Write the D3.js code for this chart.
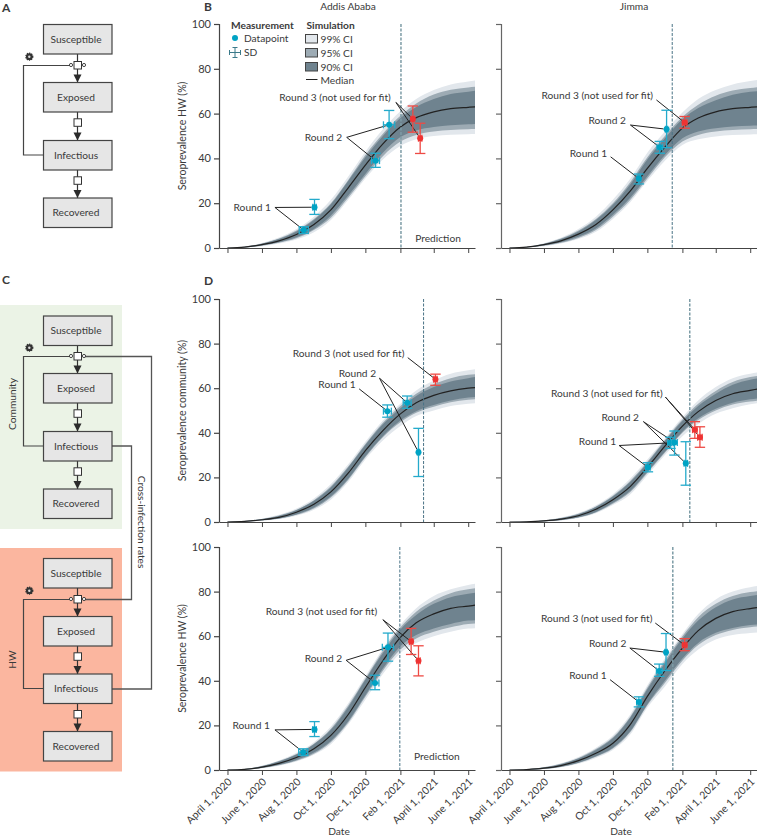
<!DOCTYPE html>
<html><head><meta charset="utf-8">
<script src="https://cdn.jsdelivr.net/npm/d3@7/dist/d3.min.js"></script>
<style>html,body{margin:0;padding:0;background:#fff}svg{display:block}text{font-family:Lato,"Noto Sans",sans-serif;fill:#3a3a3a}</style>
</head><body><svg id="c" width="757" height="836"></svg>
<script>
// ---------- data ----------
const curveDates=["2020-04-01","2020-05-01","2020-06-01","2020-07-01","2020-08-01","2020-09-01","2020-10-01","2020-11-01","2020-12-01","2021-01-01","2021-02-01","2021-03-01","2021-04-01","2021-05-01","2021-06-01","2021-06-13"];
const tickDates=["2020-04-01","2020-06-01","2020-08-01","2020-10-01","2020-12-01","2021-02-01","2021-04-01","2021-06-01"];
const tickLabels=["April 1, 2020","June 1, 2020","Aug 1, 2020","Oct 1, 2020","Dec 1, 2020","Feb 1, 2021","April 1, 2021","June 1, 2021"];
const yTicks=[0,20,40,60,80,100];
const legendCI=["99% CI","95% CI","90% CI"];

const addisHwBMedian=[0,.4,1.5,3.2,6,10.5,17,27,37,46.5,54,58.2,60.8,62.2,62.8,63];
const addisHwBHi99=[.1,.7,2.2,4.7,8.5,14,21.5,32,43,53,61,66.5,70.5,73,74.3,74.8];
const addisHwBHi95=[.1,.6,2,4.2,7.8,13,20,30.5,41.5,51,59,64.5,68.5,70.6,71.7,72];
const addisHwBHi90=[.1,.5,1.9,4,7.4,12.5,19.5,30,40.5,50,58,63,66.5,68.8,69.8,70.2];
const addisHwBLo90=[0,.3,1.2,2.6,4.8,8.5,14.5,23.5,33,42.5,49.5,52.5,54,54.8,55.2,55.4];
const addisHwBLo95=[0,.2,1,2.3,4.3,8,13.5,22.5,32,41,47.5,50.5,52,52.7,53,53.1];
const addisHwBLo99=[0,.2,.8,2,3.8,7,12.5,21.5,31,39.5,45.5,48.5,50,50.6,50.8,50.9];

const jimmaHwBMedian=[0,.4,1.5,3.2,6.2,10.5,17,25.5,35.5,45,53.5,58,60.8,62.2,62.8,63];
const jimmaHwBHi99=[.1,.6,2.1,4.6,8.5,14,21.5,31,42.5,52,60.5,66.5,70.5,73,74.5,75];
const jimmaHwBHi95=[.1,.5,1.9,4.2,7.8,13,20,29.5,40.5,50,58.5,64,68,70.3,71.4,71.8];
const jimmaHwBHi90=[.1,.5,1.8,4,7.4,12.5,19.3,28.5,39.5,49,57.5,62.5,66,68.4,69.7,70];
const jimmaHwBLo90=[0,.3,1.2,2.6,5,8.7,14.8,22.5,32,41.5,49,52,53.5,54.2,54.6,54.7];
const jimmaHwBLo95=[0,.2,1,2.3,4.5,8,14,21.5,31,40.5,47.5,50.5,52,52.7,53,53.1];
const jimmaHwBLo99=[0,.2,.8,2,4,7.2,13,20.5,30,39,46,48.5,49.8,50.4,50.7,50.8];

const addisComMedian=[0,.3,1,2.1,4.4,8,13.5,22,32,41,48.5,53.5,56.8,58.8,60,60.3];
const addisComHi99=[.1,.4,1.5,3.2,6,10.5,17,26,36,45.5,53,59,63.5,66.5,68,68.5];
const addisComHi95=[.1,.4,1.4,2.9,5.5,9.8,16,25,35,44.5,52,57.5,61.8,64.5,66,66.3];
const addisComHi90=[.1,.4,1.3,2.7,5.3,9.5,15.5,24.5,34.5,43.8,51,56.5,60.5,63,64.5,65];
const addisComLo90=[0,.2,.8,1.6,3.4,6.5,11.5,19.5,29.5,38.5,45.5,49.7,52.5,54.5,55.8,56];
const addisComLo95=[0,.2,.7,1.5,3.2,6.1,11,19,29,38,44.7,49,51.7,53.7,54.8,55];
const addisComLo99=[0,.1,.6,1.3,2.8,5.5,10,18,28,36.5,43,47.5,50,52,53,53.3];

const jimmaComMedian=[0,.1,.5,1.3,2.8,5.7,10,16,24.5,34,43,49.5,54.5,57.5,59,59.6];
const jimmaComHi99=[0,.2,.8,2,4,7.5,12.5,19.5,28,37.5,47,54.5,60.5,64.5,66.5,67];
const jimmaComHi95=[0,.2,.7,1.8,3.7,7,11.8,18.5,27,36.8,46,53,58.8,62.8,65,65.5];
const jimmaComHi90=[0,.2,.7,1.7,3.5,6.7,11.4,18,26.5,36.3,45.3,52,57.5,61.5,63.8,64.3];
const jimmaComLo90=[0,.1,.3,.9,2.1,4.5,8.6,14,22.5,31.5,40.5,46.5,50.8,53.5,55,55.4];
const jimmaComLo95=[0,.1,.3,.8,2,4.3,8.2,13.5,22,31,40,45.7,50,52.7,54,54.4];
const jimmaComLo99=[0,.1,.2,.7,1.8,3.9,7.6,12.5,21,30,38.5,44,48.5,51,52.8,53.2];

const addisHwDMedian=[0,.3,1.3,3,5.6,9.5,15.5,25,37,49,59.5,66,70,72.5,73.5,73.9];
const addisHwDHi99=[.1,.5,2,4.3,7.7,12.5,19.5,30,42,54.5,65,72.5,78,81,83,83.5];
const addisHwDHi95=[.1,.4,1.8,4,7.2,11.8,18.5,29,41,53.5,64,71,76,79.3,81,81.5];
const addisHwDHi90=[.1,.4,1.7,3.8,6.9,11.5,18,28.3,40.5,52.5,63,69.5,74.5,77.5,79,79.5];
const addisHwDLo90=[0,.2,1,2.3,4.5,7.8,13,22,33.5,45.5,55.5,60.5,63.5,65.5,67,67.2];
const addisHwDLo95=[0,.2,.9,2.1,4.2,7.3,12.5,21.3,32.8,44.5,54,59,62,64,65.5,65.7];
const addisHwDLo99=[0,.1,.8,1.9,3.8,6.8,11.5,20.5,31.5,43,52.5,57,60,62,63.4,63.6];

const jimmaHwDMedian=[0,.2,.8,2,4.2,7.5,12,20.5,33,44.5,54.7,62.5,68,71,72.4,72.8];
const jimmaHwDHi99=[.1,.3,1.3,3,5.8,10,15.5,25,38,50,61,70,76.5,80,82,82.5];
const jimmaHwDHi95=[.1,.3,1.2,2.8,5.4,9.4,14.7,24,37,49,60,68.5,74.5,78,79.8,80.2];
const jimmaHwDHi90=[0,.3,1.1,2.6,5.2,9,14.2,23.5,36.2,48,59,67,73,76.5,78,78.5];
const jimmaHwDLo90=[0,.1,.6,1.5,3.3,6.2,10,17.5,29.5,40,50,57,61.5,63.7,65,65.3];
const jimmaHwDLo95=[0,.1,.5,1.4,3.1,5.9,9.6,17,29,39,49,56,60.5,62.8,64,64.3];
const jimmaHwDLo99=[0,.1,.5,1.2,2.8,5.4,9,16,28,37.5,47.5,54,58.5,60.5,61.4,61.7];

// measurement points: [days since April 1 2020, value, low, high, x half-error in days, round]
const addisHwBPoints=[[135,8,6.5,9.5,8,1],[154,18.2,15,21.7,3,1],[262,39,36,42.3,7,2],[286,55,48.8,61.4,10,2],[328,57.6,51.7,63.4,3,3],[341,49,42.2,55.7,3,3]];
const jimmaHwBPoints=[[229,31,28.6,33,3,1],[266,45,42.3,47.6,5,2],[278,53,44.8,61.5,2,2],[310,56,53.5,58.7,4,3]];
const addisComPoints=[[283,49.7,47,52.5,7,1],[318,53.5,51,56.5,7,2],[338,31.3,20.4,42,2,2],[368,64,61.3,66.3,3,3]];
const jimmaComPoints=[[245,24.5,22.5,26.6,4,1],[285,35.5,33,38,5,1],[292,35.7,30,40.8,5,2],[312,26.3,16.5,36,3,2],[328,41.4,37.5,45,4,3],[337,38,33.5,42.7,4,3]];
const addisHwDPoints=[[134,8,6.5,9.5,8,1],[154,18.2,15,21.7,3,1],[261,39,36,42.5,7,2],[284,55,48.8,61.4,10,2],[325,57.6,51.8,63.5,3,3],[338.5,49,42.2,55.7,3,3]];
const jimmaHwDPoints=[[229,30.5,28.3,32.8,4,1],[265,44.4,42,47.5,5,2],[277,52.8,44.6,61.2,2,2],[310,56,53.5,58.9,4,3]];

// leaders: [label, label end day, label value, leader start day, leader start value, target point indexes]
const addisHwBNotes=[["Round 1",77,18.4,84,18.1,[1,0]],["Round 2",203.6,49.5,211,49.4,[3,2]],["Round 3 (not used for fit)",289,67.6,298,65,[4,5]]];
const jimmaHwBNotes=[["Round 1",173.5,42.5,179.4,40.7,[0]],["Round 2",206.5,57,214.7,54.9,[2,1]],["Round 3 (not used for fit)",254.7,68.3,260,66.1,[3]]];
const addisComNotes=[["Round 1",227.8,61.8,233.7,59.7,[0]],["Round 2",263.3,66.7,269.2,64.5,[1,2]],["Round 3 (not used for fit)",313.6,75.7,319.5,73.7,[3]]];
const jimmaComNotes=[["Round 1",189.4,36.3,194,34.3,[1,0]],["Round 2",229.4,47,237,45,[2,3]],["Round 3 (not used for fit)",271.8,58,276.5,56,[4,5]]];
const addisHwDNotes=[["Round 1",75.7,20,84,18,[1,0]],["Round 2",203,50.1,210,49.2,[3,2]],["Round 3 (not used for fit)",265.7,71.1,275,67.4,[4,5]]];
const jimmaHwDNotes=[["Round 1",172.4,42.5,178.2,40.5,[0]],["Round 2",207,57,213.5,54.7,[2,1]],["Round 3 (not used for fit)",253.5,68,258.8,65.9,[3]]];

// ---------- layout ----------
const svg=d3.select("#c");
const parse=d3.utcParse("%Y-%m-%d");
const START=parse("2020-04-01"), DOMAIN=[parse("2020-03-17"),parse("2021-06-13")];
const fromDay=d=>d3.utcDay.offset(START,Math.floor(d));
const COL={ci99:"#e2e7ec",ci95:"#9dabb4",ci90:"#6f838f",med:"#222",teal:"#00a3c4",tealLine:"#24aacb",red:"#ee3333",redLine:"#ee4a44",axis:"#444",axisR:"#666",text:"#3a3a3a"};
const FS=10.2;
const columns={left:[219,475],right:[501,757]};
const rows={top:[248,24],mid:[522,299],bot:[770,547]};

function panel(o){
  const [x0,x1]=columns[o.col],[y0,y1]=rows[o.row];
  const x=d3.scaleUtc().domain(DOMAIN).range([x0,x1]);
  const y=d3.scaleLinear().domain([0,100]).range([y0,y1]);
  const g=svg.append("g");
  const cd=curveDates.map(parse);
  const area=(lo,hi)=>d3.area().x((_,i)=>x(cd[i])).y0((_,i)=>y(lo[i])).y1((_,i)=>y(hi[i])).curve(d3.curveMonotoneX)(cd);
  g.append("path").attr("d",area(o.lo99,o.hi99)).attr("fill",COL.ci99);
  g.append("path").attr("d",area(o.lo95,o.hi95)).attr("fill",COL.ci95);
  g.append("path").attr("d",area(o.lo90,o.hi90)).attr("fill",COL.ci90);
  g.append("path").attr("d",d3.line().x((_,i)=>x(cd[i])).y((_,i)=>y(o.median[i])).curve(d3.curveMonotoneX)(cd)).attr("fill","none").attr("stroke",COL.med).attr("stroke-width",1.2);
  // prediction boundary
  g.append("line").attr("x1",x(fromDay(o.cut))).attr("x2",x(fromDay(o.cut))).attr("y1",y(100)).attr("y2",y(0))
    .attr("stroke",o.cutThick?"#7d9ca6":"#4a7386").attr("stroke-width",o.cutThick?1.5:1).attr("stroke-dasharray","3 1.5");
  // axes
  const axColor=o.col==="left"?COL.axis:COL.axisR;
  const ax=g.append("g").attr("transform",`translate(0,${y0})`).call(d3.axisBottom(x).tickValues(tickDates.map(parse)).tickSize(5).tickSizeOuter(0).tickFormat((_,i)=>o.row==="bot"?tickLabels[i]:""));
  ax.selectAll("path,line").attr("stroke",COL.axis);
  if(o.row==="bot") ax.selectAll("text").attr("transform","translate(2,10) rotate(-45)").attr("text-anchor","end").attr("x",0).attr("y",0).attr("dy",".35em").attr("font-size",10.4).attr("font-family",null);
  const ay=g.append("g").attr("transform",`translate(${x0},0)`).call(d3.axisLeft(y).tickValues(yTicks).tickSize(5).tickSizeOuter(0).tickFormat(o.col==="left"?d3.format("d"):()=>""));
  ay.selectAll("path,line").attr("stroke",axColor).attr("stroke-width",1.2);
  ay.select("path.domain").attr("d",`M0.5,${y0+.5}V${y1+.5}H-5`);
  ay.selectAll("text").attr("font-size",11).attr("font-family",null);
  if(o.col==="left"){
    g.append("text").attr("transform",`translate(${x0-37},${(y0+y1)/2}) rotate(-90)`).attr("text-anchor","middle").attr("dominant-baseline","central").attr("font-size",10.5).text(o.ylabel);
  }
  if(o.row==="bot") g.append("text").attr("x",x0+120).attr("y",835).attr("text-anchor","middle").attr("font-size",FS).text("Date");
  // leaders under points
  const P=p=>[x(d3.utcDay.offset(START,p[0])),y(p[1])];
  o.notes.forEach(n=>{
    const sx=x(d3.utcDay.offset(START,n[3])),sy=y(n[4]);
    n[5].forEach(k=>{
      const [tx,ty]=P(o.points[k]);const L=Math.hypot(tx-sx,ty-sy),s=(L-3)/L;
      g.append("line").attr("x1",sx).attr("y1",sy).attr("x2",sx+(tx-sx)*s).attr("y2",sy+(ty-sy)*s).attr("stroke","#222").attr("stroke-width",1);
    });
    g.append("text").attr("x",x(d3.utcDay.offset(START,n[1]))).attr("y",y(n[2])).attr("text-anchor","end").attr("dominant-baseline","central").attr("font-size",FS).text(n[0]);
  });
  // points
  o.points.forEach(p=>{
    const red=p[5]===3,c=red?COL.redLine:COL.tealLine,cx=x(d3.utcDay.offset(START,p[0])),cy=y(p[1]);
    const yl=y(p[2]),yh=y(p[3]),xl=x(d3.utcDay.offset(START,p[0]-p[4])),xh=x(d3.utcDay.offset(START,p[0]+p[4]));
    const pg=g.append("g").attr("stroke",c).attr("stroke-width",1.3);
    pg.append("line").attr("x1",cx).attr("x2",cx).attr("y1",yl).attr("y2",yh);
    pg.append("line").attr("x1",cx-5.2).attr("x2",cx+5.2).attr("y1",yl).attr("y2",yl);
    pg.append("line").attr("x1",cx-5.2).attr("x2",cx+5.2).attr("y1",yh).attr("y2",yh);
    pg.append("line").attr("x1",xl).attr("x2",xh).attr("y1",cy).attr("y2",cy);
    pg.append("line").attr("x1",xl).attr("x2",xl).attr("y1",cy-3.5).attr("y2",cy+3.5);
    pg.append("line").attr("x1",xh).attr("x2",xh).attr("y1",cy-3.5).attr("y2",cy+3.5);
    g.append("circle").attr("cx",cx).attr("cy",cy).attr("r",3).attr("fill",red?COL.red:COL.teal);
  });
  if(o.prediction) g.append("text").attr("x",x(d3.utcDay.offset(START,o.prediction[0]))).attr("y",y(o.prediction[1])).attr("text-anchor","end").attr("dominant-baseline","central").attr("font-size",FS).text("Prediction");
}
const mk=(col,row,ylabel,cut,thick,median,hi99,hi95,hi90,lo90,lo95,lo99,points,notes,prediction)=>panel({col,row,ylabel,cut,cutThick:thick,median,hi99,hi95,hi90,lo90,lo95,lo99,points,notes,prediction});
mk("left","top","Seroprevalence HW (%)",307,true,addisHwBMedian,addisHwBHi99,addisHwBHi95,addisHwBHi90,addisHwBLo90,addisHwBLo95,addisHwBLo99,addisHwBPoints,addisHwBNotes,[413.6,4.5]);
mk("right","top","",288,false,jimmaHwBMedian,jimmaHwBHi99,jimmaHwBHi95,jimmaHwBHi90,jimmaHwBLo90,jimmaHwBLo95,jimmaHwBLo99,jimmaHwBPoints,jimmaHwBNotes);
mk("left","mid","Seroprevalence community (%)",347,false,addisComMedian,addisComHi99,addisComHi95,addisComHi90,addisComLo90,addisComLo95,addisComLo99,addisComPoints,addisComNotes);
mk("right","mid","",319,true,jimmaComMedian,jimmaComHi99,jimmaComHi95,jimmaComHi90,jimmaComLo90,jimmaComLo95,jimmaComLo99,jimmaComPoints,jimmaComNotes);
mk("left","bot","Seroprevalence HW (%)",305,false,addisHwDMedian,addisHwDHi99,addisHwDHi95,addisHwDHi90,addisHwDLo90,addisHwDLo95,addisHwDLo99,addisHwDPoints,addisHwDNotes,[411.8,6.1]);
mk("right","bot","",289,true,jimmaHwDMedian,jimmaHwDHi99,jimmaHwDHi95,jimmaHwDHi90,jimmaHwDLo90,jimmaHwDLo95,jimmaHwDLo99,jimmaHwDPoints,jimmaHwDNotes);

// ---------- titles and panel letters ----------
const T=(x,y,s,extra={})=>{const t=svg.append("text").attr("x",x).attr("y",y).attr("font-size",extra.size||FS).attr("dominant-baseline","central").attr("text-anchor",extra.anchor||"start").attr("font-weight",extra.weight||null).text(s);return t;};
T(348,6,"Addis Ababa",{anchor:"middle"});T(634,6,"Jimma",{anchor:"middle"});
[["A",2,7],["B",204,6],["C",2,279],["D",204,280]].forEach(d=>T(d[1],d[2],d[0],{size:12,weight:700}));

// ---------- legend ----------
T(231,25,"Measurement",{weight:700});T(306.5,25,"Simulation",{weight:700});
svg.append("circle").attr("cx",235).attr("cy",38).attr("r",3).attr("fill",COL.teal);
T(244,38,"Datapoint");
const sd=svg.append("g").attr("stroke","#3b7a8a").attr("stroke-width",1);
[[229.5,52.5,240.5,52.5],[235,47.5,235,57.5],[229.5,50,229.5,55],[240.5,50,240.5,55],[232.5,47.5,237.5,47.5],[232.5,57.5,237.5,57.5]].forEach(l=>sd.append("line").attr("x1",l[0]).attr("y1",l[1]).attr("x2",l[2]).attr("y2",l[3]));
T(244,52,"SD");
[[COL.ci99,34],[COL.ci95,48],[COL.ci90,62]].forEach((d,i)=>{
  svg.append("rect").attr("x",305.5).attr("y",d[1]+.5).attr("width",12).attr("height",8.5).attr("fill",d[0]).attr("stroke","#444").attr("stroke-width",1);
  T(320.5,d[1]+4.5,legendCI[i]);
});
svg.append("line").attr("x1",306).attr("x2",317.5).attr("y1",79.5).attr("y2",79.5).attr("stroke",COL.med).attr("stroke-width",1);
T(320.5,79.5,"Median");

// ---------- compartment diagrams ----------
const bx=43.5,bw=68.5,bh=29.5,cxm=77.5;
function flow(tops,sq,loopY,gearY){
  const names=["Susceptible","Exposed","Infectious","Recovered"];
  const g=svg.append("g");
  for(let i=0;i<3;i++){
    g.append("line").attr("x1",cxm).attr("x2",cxm).attr("y1",tops[i]+bh).attr("y2",tops[i+1]).attr("stroke","#333").attr("stroke-width",1.2);
    const t=tops[i+1];
    g.append("path").attr("d",`M${cxm-4},${t-8}H${cxm+4}L${cxm},${t}Z`).attr("fill","#2b2b2b");
  }
  g.append("path").attr("d",`M${bx},${loopY+.5}H23.5V${sq[0]+.5}H70`).attr("fill","none").attr("stroke","#444").attr("stroke-width",1.2);
  names.forEach((n,i)=>{
    g.append("rect").attr("x",bx).attr("y",tops[i]).attr("width",bw).attr("height",bh).attr("fill","#e6e6e6").attr("stroke","#444").attr("stroke-width",1.2);
    g.append("text").attr("x",76).attr("y",tops[i]+bh/2-.5).attr("text-anchor","middle").attr("dominant-baseline","central").attr("font-size",FS).text(n);
  });
  sq.forEach(s=>g.append("rect").attr("x",cxm-3.5).attr("y",s-3.5).attr("width",7.5).attr("height",7.5).attr("fill","#fff").attr("stroke","#333").attr("stroke-width",1));
  [71,84].forEach(c=>g.append("circle").attr("cx",c).attr("cy",sq[0]).attr("r",1.6).attr("fill","#fff").attr("stroke","#333").attr("stroke-width",.9));
  g.append("circle").attr("cx",29.3).attr("cy",gearY).attr("r",3.4).attr("fill","#333").attr("stroke","#333").attr("stroke-width",1.4).attr("stroke-dasharray","1.2 1");
  g.append("circle").attr("cx",29.3).attr("cy",gearY).attr("r",1.2).attr("fill","#ddd");
}
flow([24.5,82.5,140.5,198],[65,122.3,180.3],154.5,56.7);

svg.append("rect").attr("x",0).attr("y",305).attr("width",122).attr("height",224).attr("fill","#ebf3e6");
svg.append("rect").attr("x",0).attr("y",548).attr("width",122).attr("height",223.5).attr("fill","#fbb69f");
const crossPaths=svg.append("g").attr("fill","none").attr("stroke","#555").attr("stroke-width",1.3);
crossPaths.append("path").attr("d","M84,356.5H151.5V689H112");
crossPaths.append("path").attr("d","M112,446H131.5V599.5H84");
flow([316,373.5,431.5,489],[356,413.3,471.3],445.5,347.7);
flow([558.5,616.5,674,731.5],[599,656.3,714],688,590.7);
const R=(x,y,s,a)=>svg.append("text").attr("transform",`translate(${x},${y}) rotate(${a})`).attr("text-anchor","middle").attr("dominant-baseline","central").attr("font-size",FS).text(s);
R(11.7,404,"Community",-90);R(11.7,659.5,"HW",-90);R(141.7,522,"Cross-infection rates",90);
</script></body></html>
